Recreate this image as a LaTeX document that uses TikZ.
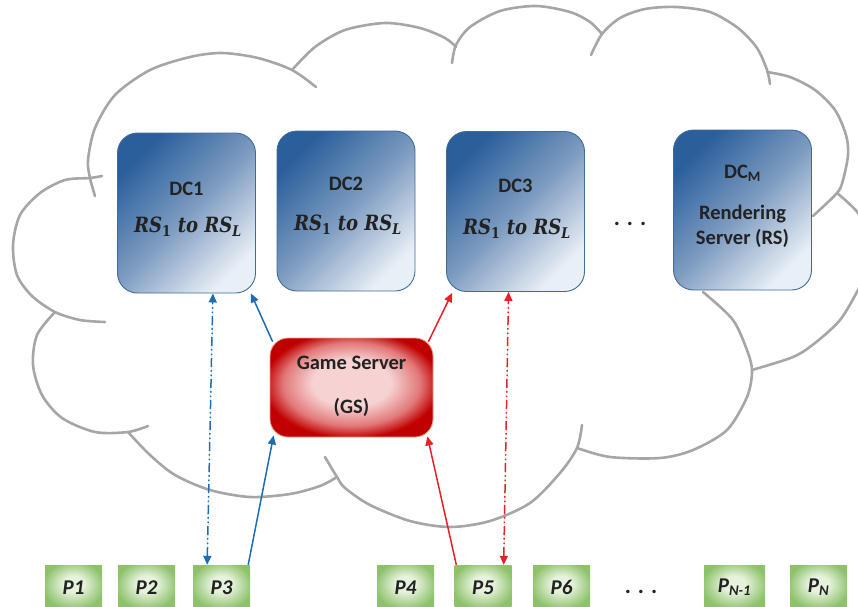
\documentclass[tikz,border=0pt]{standalone}
\usepackage{fontspec}
\setmainfont{Carlito}
\newfontfamily\rsfont{DejaVu Serif}[FakeStretch=0.86]
\usetikzlibrary{arrows.meta,calc}

\definecolor{cloudgray}{HTML}{A6A6A6}
\definecolor{dcdark}{HTML}{2A5F9C}
\definecolor{dcmid}{HTML}{7C9BC0}
\definecolor{dclight}{HTML}{E9EFF6}
\definecolor{dcedge}{HTML}{3F6B99}
\definecolor{gsdark}{HTML}{C00000}
\definecolor{gsmid}{HTML}{E27878}
\definecolor{gslight}{HTML}{F6D2D2}
\definecolor{gsedge}{HTML}{F0A080}
\definecolor{pdark}{HTML}{8DC26B}
\definecolor{plight}{HTML}{E6F2DC}
\definecolor{linkblue}{HTML}{1C6DB5}
\definecolor{linkred}{HTML}{EA2027}
\definecolor{inktext}{HTML}{222222}

% glow fills for the game server and the player boxes
% (the box of a path covers the central 50bp of a shading)
\pgfdeclareradialshading{gsglow}{\pgfpoint{0bp}{3bp}}{color(0bp)=(gslight); color(12bp)=(gslight); color(21bp)=(gsmid); color(27bp)=(gsdark); color(50bp)=(gsdark)}
\pgfdeclareradialshading{pglow}{\pgfpoint{0bp}{5bp}}{color(0bp)=(plight); color(9bp)=(plight); color(27bp)=(pdark); color(50bp)=(pdark)}

\tikzset{
  cloudline/.style={draw=cloudgray, line width=2.6pt, line cap=round, line join=round},
  dcbox/.style={draw=dcedge, line width=0.9pt, rounded corners=20pt,
    minimum width=138pt, minimum height=160pt, inner sep=0pt,
    top color=dcdark, bottom color=dclight, middle color=dcmid, shading angle=45},
  dctitle/.style={text=inktext, font=\fontsize{20.5}{24}\selectfont\bfseries, inner sep=0pt},
  dctext/.style={text=inktext, font=\fontsize{20.5}{25}\selectfont\bfseries, inner sep=0pt, align=center},
  rslabel/.style={text=inktext, font=\rsfont\fontsize{21}{24}\selectfont\bfseries\itshape, inner sep=0pt},
  gsbox/.style={draw=gsedge, line width=0.8pt, rounded corners=18pt,
    minimum width=163pt, minimum height=99pt, inner sep=0pt, shading=gsglow},
  pbox/.style={shading=pglow, minimum width=57pt, minimum height=45pt, inner sep=0pt,
    text=inktext, font=\fontsize{21}{24}\selectfont\bfseries\itshape},
  ellipsis/.style={text=inktext, font=\fontsize{23}{24}\selectfont\bfseries, inner sep=0pt},
  link/.style={line width=1.5pt, -{Triangle[length=9pt,width=8pt]}},
  duplex/.style={line width=1.5pt,
    {Triangle[length=9pt,width=8pt]}-{Triangle[length=9pt,width=8pt]},
    dash pattern=on 9pt off 3pt on 1.5pt off 3pt on 1.5pt off 3pt},
}
\newcommand{\rsrange}{RS\textsubscript{\upshape 1} to RS\textsubscript{L}}

\begin{document}
\begin{tikzpicture}[x=1pt, y=-1pt]
\clip (0,0) rectangle (858,606);

% ---- cloud outline, one arc per lobe ----
\draw[cloudline] plot[smooth] coordinates {(95,196) (90,178) (88,160) (95,128) (115,95) (150,70) (190,57) (222,53) (258,58) (292,70) (316,87)};
\draw[cloudline] plot[smooth] coordinates {(292,70) (315,47) (345,30) (385,23) (420,28) (445,38) (456,47)};
\draw[cloudline] plot[smooth] coordinates {(452,63) (456,45) (470,27) (500,11) (536,6) (570,12) (590,22) (602,34)};
\draw[cloudline] plot[smooth] coordinates {(591,55) (602,34) (620,18) (645,9) (676,7) (710,12) (738,28) (757,48) (767,70) (770,84)};
\draw[cloudline] plot[smooth] coordinates {(767,72) (790,77) (815,90) (835,110) (846,135) (848,155) (843,180) (837,193) (813,216)};
\draw[cloudline] plot[smooth] coordinates {(837,193) (858,213) (870,240) (870,265) (858,290) (840,320) (815,343) (793,357) (752,370)};
\draw[cloudline] plot[smooth] coordinates {(703,292) (733,320) (748,353) (752,372) (747,397) (727,430) (693,450) (660,458) (610,457) (577,448)};
\draw[cloudline] plot[smooth] coordinates {(582,425) (577,448) (560,473) (530,503) (490,521) (450,527) (410,521) (370,505) (345,488) (337,477) (325,457)};
\draw[cloudline] plot[smooth] coordinates {(337,477) (320,486) (290,494) (250,497) (210,490) (175,475) (150,455) (128,432)};
\draw[cloudline] plot[smooth] coordinates {(148,426) (128,432) (95,432) (62,418) (42,395) (33,365) (37,335) (55,312)};
\draw[cloudline] plot[smooth] coordinates {(105,322) (80,320) (55,312) (32,296) (17,275) (13,245) (20,215) (40,193) (65,180) (90,178) (102,176)};

% ---- data centres ----
\node[dcbox] (dc1) at (186.5,213) {};
\node[dctitle] (dc1name) at (186.5,189) {DC1};
\node[rslabel] (dc1rs) at (188,227) {\rsrange};

\node[dcbox] (dc2) at (346,211) {};
\node[dctitle] (dc2name) at (346,184) {DC2};
\node[rslabel] (dc2rs) at (348,225) {\rsrange};

\node[dcbox] (dc3) at (515.5,211.5) {};
\node[dctitle] (dc3name) at (515.5,186) {DC3};
\node[rslabel] (dc3rs) at (517,229) {\rsrange};

\node[ellipsis] (dcdots) at (630,224) {.\hspace{7pt}.\hspace{7pt}.};

\node[dcbox] (dcm) at (742.5,210) {};
\node[dctitle] (dcmname) at (742.5,173) {DC\textsubscript{M}};
\node[dctext] (dcmrs) at (742.5,226) {Rendering\\Server (RS)};

% ---- game server ----
\node[gsbox] (gs) at (351.5,387.5) {};
\node[dctitle] (gsname) at (351.5,363) {Game Server};
\node[dctitle] (gsabbr) at (351.5,407) {(GS)};

% ---- players ----
\node[pbox] (p1) at (73.5,587.5) {P1};
\node[pbox] (p2) at (146.5,587.5) {P2};
\node[pbox] (p3) at (221.5,587.5) {P3};
\node[pbox] (p4) at (405.5,587.5) {P4};
\node[pbox] (p5) at (483,587.5) {P5};
\node[pbox] (p6) at (561.5,587.5) {P6};
\node[ellipsis] (pdots) at (641,592) {.\hspace{7pt}.\hspace{7pt}.};
\node[pbox, minimum width=61pt] (pn1) at (734.5,587.5) {P\textsubscript{N-1}};
\node[pbox] (pn) at (818.5,587.5) {P\textsubscript{N}};

% ---- connections ----
\draw[duplex, draw=linkblue, fill=linkblue]
  ($(p3.north west)!0.25!(p3.north east)$) -- ($(dc1.south west)!0.69!(dc1.south east)$);
\draw[link, draw=linkblue, fill=linkblue] ($(gs.north west)+(3,4)$) -- ($(dc1.south east)+(-5,0)$);
\draw[link, draw=linkblue, fill=linkblue] ($(p3.north east)+(-2,0)$) -- ($(gs.south west)+(4,-2)$);

\draw[duplex, draw=linkred, fill=linkred]
  ($(p5.north west)!0.86!(p5.north east)$) -- ($(dc3.south west)!0.45!(dc3.south east)$);
\draw[link, draw=linkred, fill=linkred] ($(gs.north east)+(-5,4)$) -- ($(dc3.south west)+(6,1)$);
\draw[link, draw=linkred, fill=linkred] ($(p5.north west)+(2,0)$) -- ($(gs.south east)+(-6,-1)$);
\end{tikzpicture}
\end{document}
